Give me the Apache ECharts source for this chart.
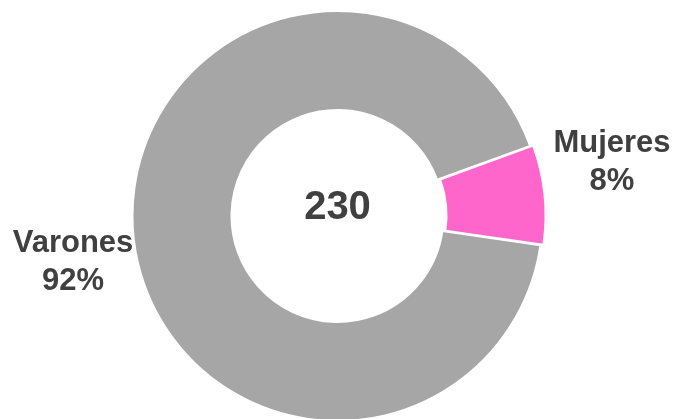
<!DOCTYPE html>
<html><head><meta charset="utf-8">
<script src="https://cdn.jsdelivr.net/npm/echarts@6/dist/echarts.min.js"></script>
<style>html,body{margin:0;padding:0;background:#fff}#c{width:675px;height:419px}</style>
</head><body><div id="c"></div>
<script>
var categories = ['Mujeres', 'Varones'];
var values = [18, 212];
var percentLabels = ['8%', '92%'];
var totalLabel = '230';
var colors = ['#ff66cc', '#a6a6a6'];

var chart = echarts.init(document.getElementById('c'), null, {renderer: 'canvas'});
var labelPos = [[612, 162], [73, 262]];
var font = 'Liberation Sans, Arial, sans-serif';
var graphics = [{
  type: 'text', left: 'center', top: 188,
  style: {text: totalLabel, fontSize: 40, fontWeight: 'bold', fill: '#404040', fontFamily: font}
}];
categories.forEach(function (c, i) {
  graphics.push({
    type: 'text', x: labelPos[i][0], y: labelPos[i][1],
    style: {text: c + '\n' + percentLabels[i], fontSize: 31, fontWeight: 'bold', fill: '#404040',
      lineHeight: 38, align: 'center', verticalAlign: 'middle', fontFamily: font}
  });
});
chart.setOption({
  animation: false,
  graphic: graphics,
  series: [{
    type: 'pie',
    center: [337.5, 216],
    radius: [106, 205],
    startAngle: 20,
    clockwise: true,
    selectedMode: 'single',
    selectedOffset: 3,
    itemStyle: {borderColor: '#fff', borderWidth: 2},
    labelLine: {show: false},
    label: {show: false},
    data: categories.map(function (c, i) {
      return {name: c, value: values[i], selected: i === 0, itemStyle: {color: colors[i]}};
    })
  }]
});
</script></body></html>
